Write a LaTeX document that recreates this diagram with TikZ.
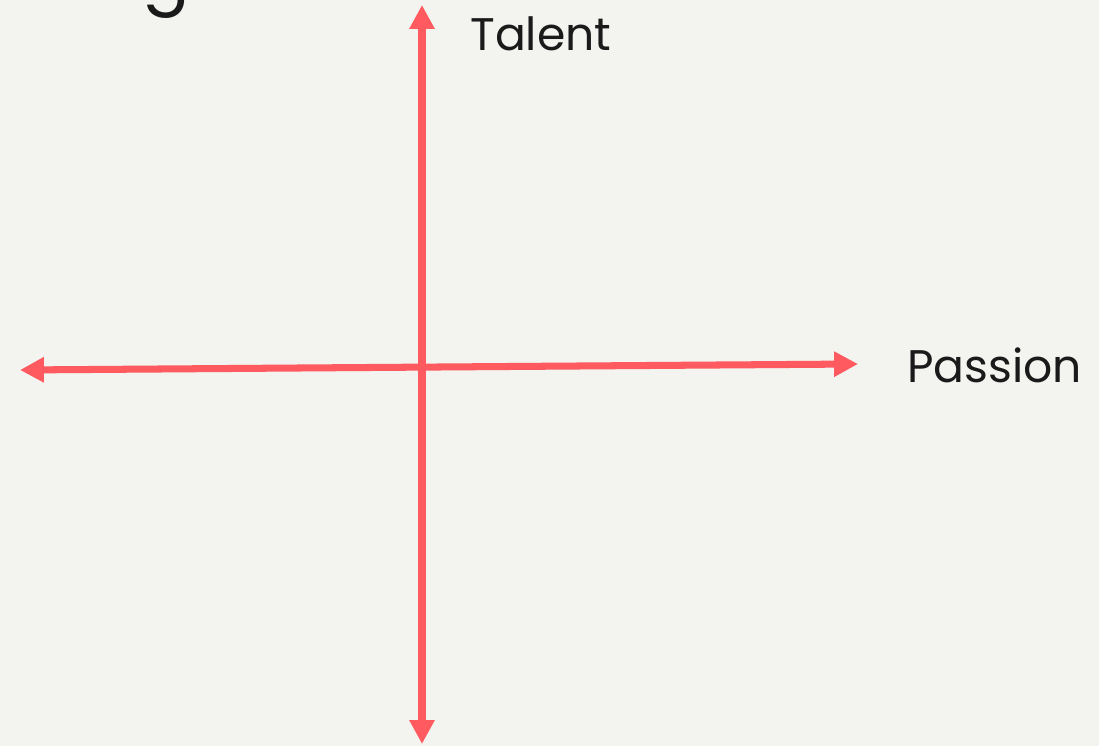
\documentclass[tikz,border=0pt]{standalone}
\usepackage{fontspec}
\usepackage{xcolor}
\usetikzlibrary{arrows.meta,positioning}
\newfontfamily\axisfont{Poppins}
\definecolor{paper}{HTML}{F3F3EF}
\definecolor{axisred}{HTML}{FF5A5F}
\definecolor{ink}{HTML}{1A1A1A}
\tikzset{
  axisline/.style ={axisred,line width=4pt,{Triangle[length=13.6pt,width=13.6pt]}-{Triangle[length=13.6pt,width=13.6pt]}},
  axislabel/.style={font=\axisfont\fontsize{26}{28}\selectfont,text=ink,inner sep=0pt,anchor=base west},
  headfrag/.style ={font=\axisfont\fontsize{40}{40}\selectfont,text=ink,inner sep=0pt,anchor=base east},
}
\begin{document}
\begin{tikzpicture}[x=0.02cm,y=-0.02cm]
  \fill[paper] (0,0) rectangle (1099,746);
  \useasboundingbox (0,0) rectangle (1099,746);
  % axis end points
  \coordinate (left)   at (20,370);
  \coordinate (right)  at (858,364);
  \coordinate (top)    at (422,5);
  \coordinate (bottom) at (422,744);
  \draw[axisline] (left) -- (right);
  \draw[axisline] (bottom) -- (top);
  % labels
  \node[axislabel] (talent)  at (470,51)  {Talent};
  \node[axislabel] (passion) at (907,383) {Passion};
  % cut-off heading
  \node[headfrag] (heading) at (190,0) {ing};
\end{tikzpicture}
\end{document}
